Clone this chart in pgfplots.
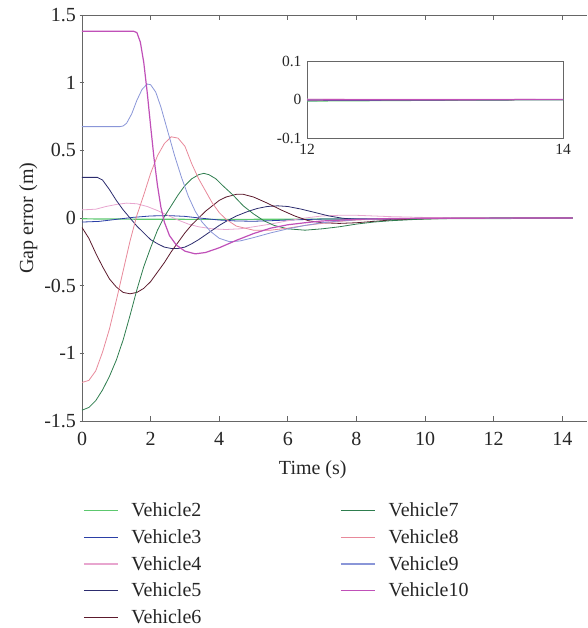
\documentclass[border=0pt]{standalone}
\usepackage{pgfplots}
\pgfplotsset{compat=1.18}
\usepackage{pgfplotstable}
\usepackage{fontspec}
\setmainfont{Liberation Serif}

\definecolor{axgray}{HTML}{666666}
\definecolor{cvtwo}{HTML}{5CC86E}
\definecolor{cvthree}{HTML}{2B3FA6}
\definecolor{cvfour}{HTML}{E8A6CF}
\definecolor{cvfive}{HTML}{2C2C6E}
\definecolor{cvsix}{HTML}{5C1A2C}
\definecolor{cvseven}{HTML}{2E7D4E}
\definecolor{cveight}{HTML}{E8899A}
\definecolor{cvnine}{HTML}{8A96D8}
\definecolor{cvten}{HTML}{C050B8}

\pgfplotstableread{
t v
0 -0.006
1 -0.008
2 -0.009
3 -0.01
4 -0.01
5 -0.01
6 -0.009
7 -0.008
8 -0.007
9 -0.006
10 -0.005
11 -0.004
12 -0.004
13 -0.002
14.3 0
}\vtwo
\pgfplotstableread{
t v
0 -0.03
0.5 -0.025
1.0 -0.01
1.5 0.005
2.0 0.015
2.5 0.018
3.0 0.012
3.5 -0.002
4.0 -0.015
4.5 -0.022
5.0 -0.024
5.5 -0.02
6.0 -0.015
7.0 -0.008
8.0 -0.006
9 -0.004
10 -0.003
12 -0.003
14.3 0
}\vthree
\pgfplotstableread{
t v
0 0.06
0.4 0.065
0.7 0.085
1.0 0.10
1.3 0.11
1.6 0.105
1.9 0.085
2.2 0.055
2.5 0.02
2.8 -0.015
3.1 -0.045
3.4 -0.065
3.8 -0.08
4.2 -0.085
4.6 -0.08
5.0 -0.065
5.5 -0.045
6.0 -0.02
6.5 0.0
7.0 0.015
7.5 0.02
8 0.02
8.5 0.015
9 0.01
10 0.004
11 0.002
12 0.001
14.3 0
}\vfour
\pgfplotstableread{
t v
0 0.30
0.45 0.30
0.6 0.28
0.8 0.21
1.0 0.13
1.2 0.06
1.4 0.0
1.6 -0.06
1.8 -0.11
2.0 -0.16
2.2 -0.19
2.4 -0.215
2.6 -0.225
2.8 -0.225
3.0 -0.215
3.2 -0.19
3.4 -0.16
3.6 -0.125
3.8 -0.09
4.0 -0.055
4.2 -0.025
4.5 0.015
4.8 0.045
5.1 0.07
5.4 0.085
5.7 0.09
6.0 0.085
6.4 0.065
6.8 0.04
7.2 0.015
7.6 -0.002
8 -0.01
8.5 -0.012
9 -0.01
10 -0.004
11 -0.002
12 -0.001
14.3 0
}\vfive
\pgfplotstableread{
t v
0 -0.07
0.2 -0.15
0.4 -0.26
0.6 -0.36
0.8 -0.45
1.0 -0.51
1.2 -0.55
1.4 -0.56
1.6 -0.55
1.8 -0.52
2.0 -0.47
2.2 -0.40
2.4 -0.33
2.6 -0.25
2.8 -0.18
3.0 -0.11
3.2 -0.05
3.4 0.0
3.6 0.05
3.8 0.09
4.0 0.13
4.2 0.155
4.5 0.175
4.7 0.175
5.0 0.155
5.4 0.11
5.8 0.06
6.2 0.015
6.6 -0.02
7.0 -0.035
7.5 -0.04
8 -0.035
8.5 -0.025
9 -0.015
10 -0.006
11 -0.002
12 -0.001
14.3 0
}\vsix
\pgfplotstableread{
t v
0 -1.42
0.2 -1.40
0.4 -1.35
0.6 -1.27
0.8 -1.17
1.0 -1.05
1.2 -0.9
1.4 -0.72
1.6 -0.53
1.8 -0.36
2.0 -0.22
2.2 -0.09
2.4 0.01
2.6 0.09
2.8 0.17
3.0 0.24
3.2 0.29
3.4 0.32
3.55 0.33
3.7 0.32
3.9 0.29
4.1 0.24
4.4 0.17
4.7 0.09
5.0 0.03
5.3 -0.02
5.6 -0.055
6.0 -0.08
6.5 -0.09
7.0 -0.08
7.5 -0.065
8 -0.045
8.5 -0.03
9 -0.02
10 -0.007
11 -0.003
12 -0.001
14.3 0
}\vseven
\pgfplotstableread{
t v
0 -1.215
0.2 -1.2
0.4 -1.13
0.6 -0.99
0.8 -0.82
1.0 -0.61
1.2 -0.39
1.4 -0.17
1.6 0.02
1.8 0.17
2.0 0.33
2.2 0.46
2.4 0.55
2.6 0.60
2.8 0.59
3.0 0.53
3.2 0.40
3.4 0.29
3.6 0.20
3.8 0.11
4.0 0.04
4.2 -0.01
4.5 -0.06
5.0 -0.09
5.5 -0.09
6.0 -0.075
6.5 -0.055
7.0 -0.04
7.5 -0.025
8 -0.015
9 -0.006
10 -0.002
12 -0.001
14.3 0
}\veight
\pgfplotstableread{
t v
0 0.675
1.1 0.675
1.2 0.68
1.3 0.70
1.45 0.77
1.6 0.87
1.75 0.95
1.9 0.99
2.0 0.985
2.15 0.93
2.3 0.82
2.5 0.64
2.7 0.46
2.9 0.30
3.1 0.16
3.3 0.05
3.5 -0.03
3.75 -0.10
4.0 -0.15
4.3 -0.175
4.6 -0.17
5.0 -0.145
5.5 -0.11
6.0 -0.08
6.5 -0.055
7.0 -0.035
7.5 -0.022
8 -0.013
9 -0.005
10 -0.002
12 -0.001
14.3 0
}\vnine
\pgfplotstableread{
t v
0 1.38
1.5 1.38
1.6 1.37
1.7 1.30
1.8 1.15
1.9 0.93
2.0 0.68
2.1 0.44
2.2 0.24
2.3 0.08
2.4 -0.03
2.55 -0.13
2.75 -0.20
3.0 -0.245
3.3 -0.265
3.6 -0.255
4.0 -0.22
4.5 -0.165
5.0 -0.115
5.5 -0.075
6.0 -0.05
6.5 -0.035
7.0 -0.022
8.0 -0.01
9.0 -0.004
10 -0.002
12 -0.001
14.3 0
}\vten

\begin{document}
\begin{tikzpicture}
\begin{axis}[
  name=main,
  scale only axis,
  width=505pt, height=406pt,
  xmin=0, xmax=14.72, ymin=-1.5, ymax=1.5,
  axis x line=box, axis y line=left,
  axis line style={-, draw=axgray, line width=0.8pt},
  tick style={draw=axgray, line width=0.8pt},
  major tick length=5pt,
  xtick={0,2,...,14},
  ytick={-1.5,-1,-0.5,0,0.5,1,1.5},
  /pgf/number format/assume math mode=true,
  /pgf/number format/fixed,
  tick label style={font=\fontsize{20}{24}\selectfont, text=black!85},
  label style={font=\fontsize{20}{24}\selectfont, text=black!85},
  xlabel={Time (s)},
  ylabel={Gap error (m)},
  xlabel style={at={(axis description cs:0.457,0)}, anchor=north, yshift=-36pt},
  xticklabel style={yshift=-8pt},
  legend cell align=left,
  legend image code/.code={\draw[#1, line width=1.2pt] (0pt,0pt) -- (34pt,0pt);},
  legend style={at={(axis description cs:0.002,-0.196)}, anchor=north west,
    draw=none, fill=none, inner sep=0pt, row sep=7.4pt,
    font=\fontsize{20}{24}\selectfont, text=black!85,
    /tikz/column 1/.style={column sep=11pt},
    /tikz/column 2/.style={column sep=137pt},
    /tikz/column 3/.style={column sep=11pt}},
  legend columns=5,
  transpose legend,
]
\coordinate (o) at (rel axis cs:0,0);
\addplot[color=cvtwo, line width=1.2pt] table[x=t,y=v] {\vtwo};
\addlegendentry{Vehicle2}
\addplot[color=cvthree, line width=0.8pt] table[x=t,y=v] {\vthree};
\addlegendentry{Vehicle3}
\addplot[color=cvfour, line width=0.8pt] table[x=t,y=v] {\vfour};
\addlegendentry{Vehicle4}
\addplot[color=cvfive, line width=0.8pt] table[x=t,y=v] {\vfive};
\addlegendentry{Vehicle5}
\addplot[color=cvsix, line width=0.8pt] table[x=t,y=v] {\vsix};
\addlegendentry{Vehicle6}
\addplot[color=cvseven, line width=0.8pt] table[x=t,y=v] {\vseven};
\addlegendentry{Vehicle7}
\addplot[color=cveight, line width=0.8pt] table[x=t,y=v] {\veight};
\addlegendentry{Vehicle8}
\addplot[color=cvnine, line width=0.8pt] table[x=t,y=v] {\vnine};
\addlegendentry{Vehicle9}
\addplot[color=cvten, line width=1.2pt] table[x=t,y=v] {\vten};
\addlegendentry{Vehicle10}
\end{axis}
\begin{axis}[
  at={(main.north west)}, anchor=north west, xshift=225pt, yshift=-46pt,
  scale only axis,
  width=256pt, height=77pt,
  xmin=12, xmax=14, ymin=-0.1, ymax=0.1,
  axis background/.style={fill=white},
  axis line style={draw=axgray, line width=0.8pt},
  tick style={draw=none},
  xtick={12,14}, ytick={-0.1,0,0.1},
  /pgf/number format/assume math mode=true,
  /pgf/number format/fixed,
  tick label style={font=\fontsize{15.5}{18}\selectfont, text=black!85},
  xticklabel style={yshift=-3pt},
  yticklabel style={xshift=-2pt},
]
\addplot[color=cvtwo, line width=1.2pt] table[x=t,y=v] {\vtwo};
\addplot[color=cvthree, line width=0.8pt] table[x=t,y=v] {\vthree};
\addplot[color=cvfour, line width=0.8pt] table[x=t,y=v] {\vfour};
\addplot[color=cvfive, line width=0.8pt] table[x=t,y=v] {\vfive};
\addplot[color=cvsix, line width=0.8pt] table[x=t,y=v] {\vsix};
\addplot[color=cvseven, line width=0.8pt] table[x=t,y=v] {\vseven};
\addplot[color=cveight, line width=0.8pt] table[x=t,y=v] {\veight};
\addplot[color=cvnine, line width=0.8pt] table[x=t,y=v] {\vnine};
\addplot[color=cvten, line width=1.2pt] table[x=t,y=v] {\vten};
\end{axis}
\pgfresetboundingbox
\path (o) ++(-82pt,-207pt) rectangle ++(587pt,628pt);
\end{tikzpicture}
\end{document}
